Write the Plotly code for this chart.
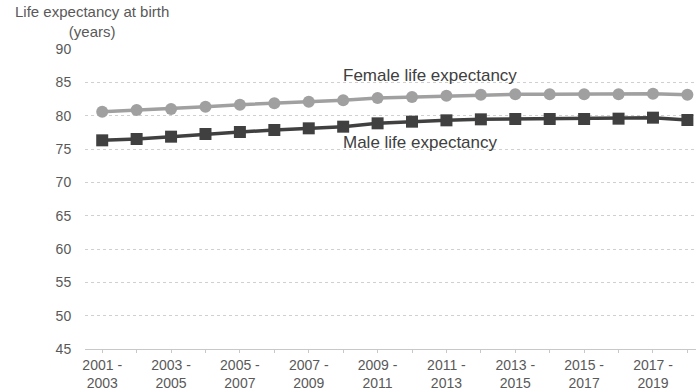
import plotly.graph_objects as go

periods = ["2001 - 2003", "2002 - 2004", "2003 - 2005", "2004 - 2006", "2005 - 2007",
           "2006 - 2008", "2007 - 2009", "2008 - 2010", "2009 - 2011", "2010 - 2012",
           "2011 - 2013", "2012 - 2014", "2013 - 2015", "2014 - 2016", "2015 - 2017",
           "2016 - 2018", "2017 - 2019", "2018 - 2020"]
female = [80.6, 80.85, 81.0, 81.35, 81.65, 81.85, 82.1, 82.3, 82.65, 82.8,
          83.0, 83.15, 83.2, 83.2, 83.2, 83.2, 83.3, 83.15]
male = [76.3, 76.5, 76.85, 77.25, 77.55, 77.85, 78.1, 78.35, 78.85, 79.1,
        79.3, 79.45, 79.5, 79.5, 79.5, 79.55, 79.7, 79.35]
y_ticks = [45, 50, 55, 60, 65, 70, 75, 80, 85, 90]

tick_text = [p.replace(" - ", " -<br>") if i % 2 == 0 else "" for i, p in enumerate(periods)]

TEXT = "#595959"
FONT = "Liberation Sans, Arial, sans-serif"

fig = go.Figure()
fig.add_trace(go.Scatter(
    x=periods, y=female, mode="lines+markers", name="Female",
    line=dict(color="#a0a0a0", width=3.5),
    marker=dict(symbol="circle", size=12, color="#a0a0a0"),
    cliponaxis=False,
))
fig.add_trace(go.Scatter(
    x=periods, y=male, mode="lines+markers", name="Male",
    line=dict(color="#404040", width=3.5),
    marker=dict(symbol="square", size=12, color="#404040"),
    cliponaxis=False,
))

fig.add_annotation(x=periods[7], y=86.1, xref="x", yref="y", text="Female life expectancy",
                   showarrow=False, xanchor="left", yanchor="middle", xshift=-2,
                   font=dict(family=FONT, size=17, color="#404040"))
fig.add_annotation(x=periods[7], y=76.05, xref="x", yref="y", text="Male life expectancy",
                   showarrow=False, xanchor="left", yanchor="middle", xshift=-2,
                   font=dict(family=FONT, size=17, color="#404040"))
fig.add_annotation(x=(92 - 85) / 611, y=1 + (49 - 1) / 300, xref="paper", yref="paper",
                   text="Life expectancy at birth<br>(years)", showarrow=False,
                   xanchor="center", yanchor="top", align="center",
                   font=dict(family=FONT, size=15, color=TEXT))

fig.update_layout(
    width=696, height=390,
    margin=dict(l=85, r=0, t=49, b=41),
    paper_bgcolor="white", plot_bgcolor="white",
    showlegend=False,
    font=dict(family=FONT, size=14, color=TEXT),
)
fig.update_xaxes(
    type="category", range=[-0.5, 17.25],
    tickmode="array", tickvals=periods, ticktext=tick_text,
    ticks="outside", ticklen=3, tickcolor="#c8c8c8", tickwidth=1,
    showline=True, linecolor="#c8c8c8", linewidth=1,
    showgrid=False, zeroline=False, automargin=False,
    tickfont=dict(family=FONT, size=14, color=TEXT),
    tickangle=0,
)
fig.update_yaxes(
    range=[45, 90], tickmode="array", tickvals=y_ticks,
    showgrid=True, gridcolor="#d0d0d0", griddash="dot", gridwidth=1,
    zeroline=False, showline=False, automargin=False,
    ticks="outside", ticklen=10, tickcolor="rgba(0,0,0,0)",
    tickfont=dict(family=FONT, size=14, color=TEXT),
)

# remove the browser's default 8px page margin so the figure fills the window exactly
fig.write_html("out.html", config={"displayModeBar": False},
               post_script="document.body.style.margin='0';document.body.style.overflow='hidden';")
